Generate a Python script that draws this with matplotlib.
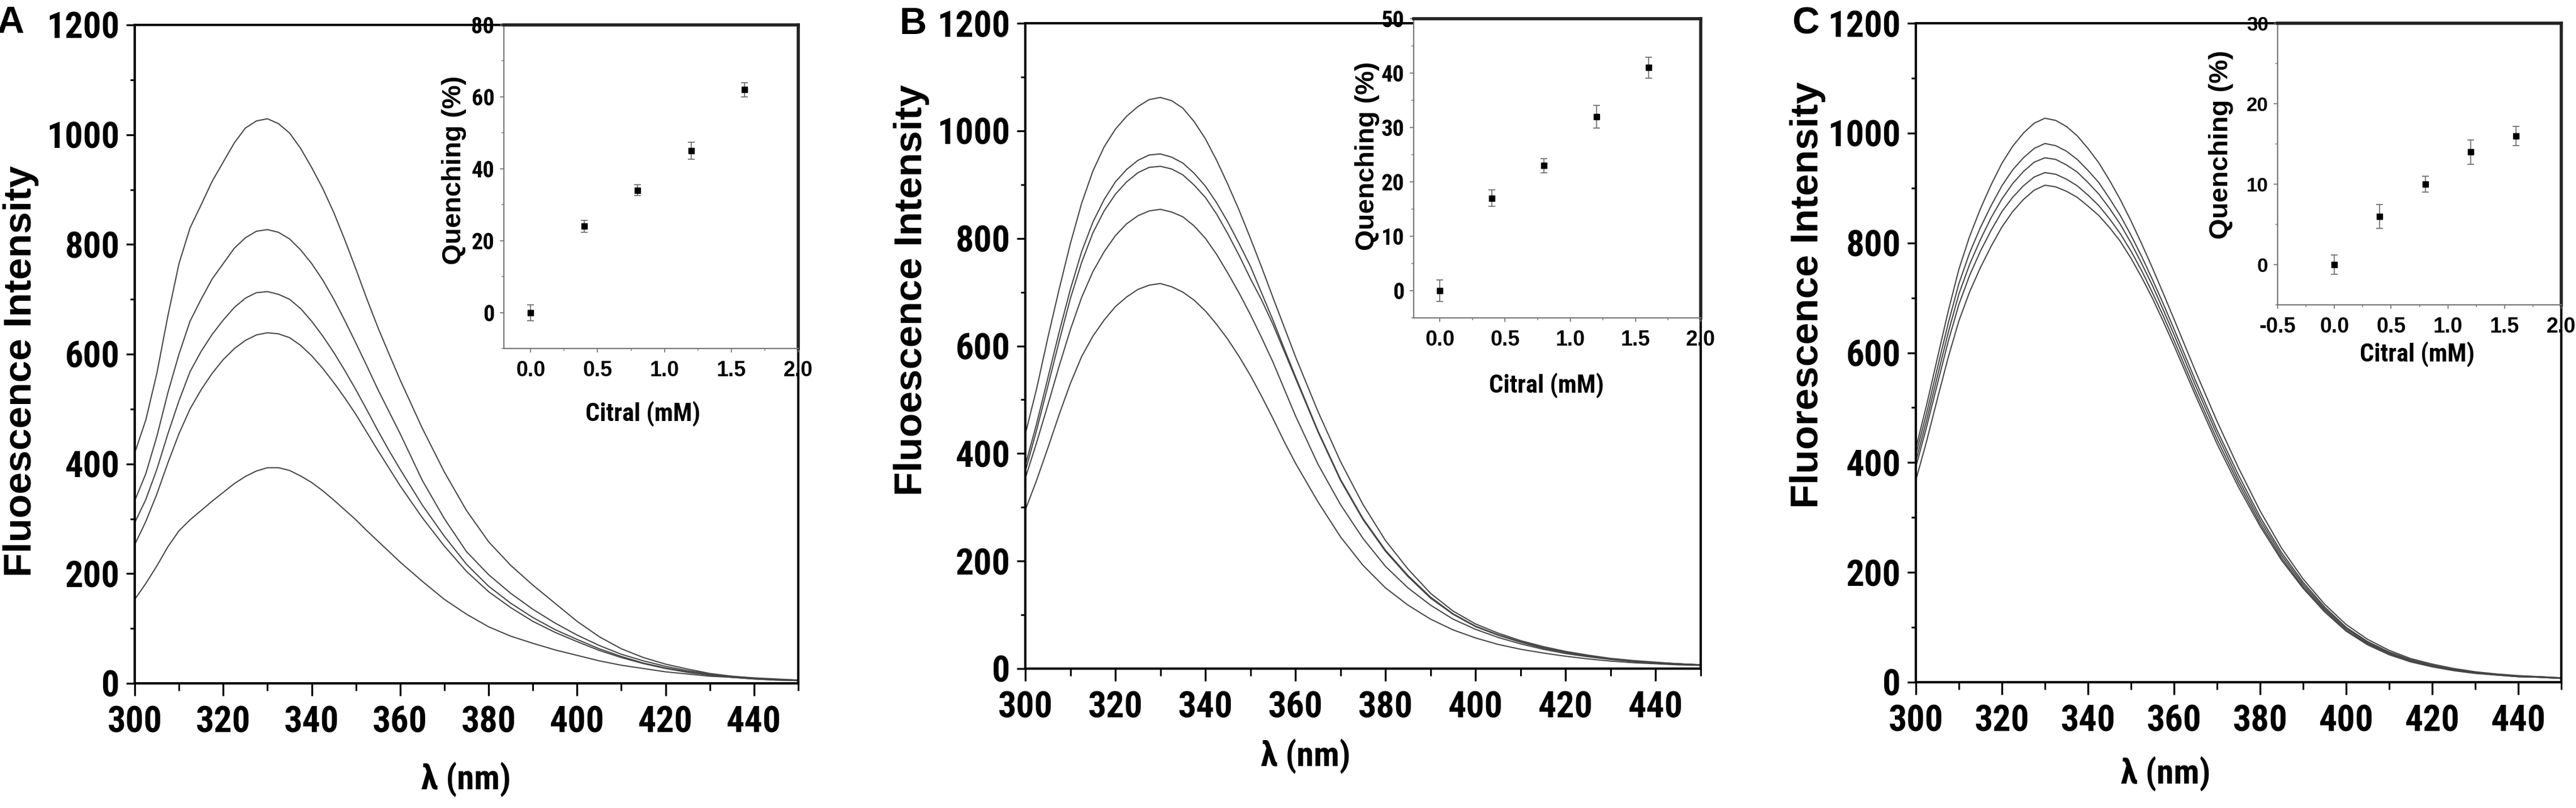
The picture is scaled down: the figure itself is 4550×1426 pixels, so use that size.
import numpy as np
import matplotlib
matplotlib.use("Agg")
import matplotlib.pyplot as plt
from matplotlib import font_manager
from matplotlib.font_manager import FontProperties
from matplotlib.ticker import MultipleLocator

# ── Canvas ───────────────────────────────────────────────────────────────────
W, H = 4550, 1426
DPI = 100

# ── Fonts: look for a condensed bold face, else fall back to regular width ──
ttf = font_manager.fontManager.ttflist
names = {f.name for f in ttf}
REG = "Liberation Sans" if "Liberation Sans" in names else "DejaVu Sans"

COND_FAMILY, COND_STRETCH = None, "normal"
for n in ["Liberation Sans Narrow", "Arial Narrow", "Roboto Condensed",
          "Open Sans Condensed", "Noto Sans Condensed", "DejaVu Sans Condensed"]:
    if n in names:
        COND_FAMILY = n
        break
if COND_FAMILY is None:
    for f in ttf:
        if f.stretch in ("condensed", "semi-condensed") and f.weight in (600, 700, "bold"):
            COND_FAMILY, COND_STRETCH = f.name, f.stretch
            break
HAVE_COND = COND_FAMILY is not None
if not HAVE_COND:
    COND_FAMILY = REG


def cond(size):
    return FontProperties(family=[COND_FAMILY, "DejaVu Sans"], weight="bold",
                          stretch=COND_STRETCH, size=size)


def reg(size):
    return FontProperties(family=[REG, "DejaVu Sans"], weight="bold", size=size)


TICK_SIZE = 46 if HAVE_COND else 39
XLAB_SIZE = 44 if HAVE_COND else 40
CIT_SIZE = 32 if HAVE_COND else 26
INSET_Y_SIZE = 29 if HAVE_COND else 26

plt.rcParams["axes.unicode_minus"] = False

# ── Data ─────────────────────────────────────────────────────────────────────
WAVELENGTH = [300, 302.5, 305, 307.5, 310, 312.5, 315, 317.5, 320, 322.5, 325,
              327.5, 330, 332.5, 335, 337.5, 340, 342.5, 345, 347.5, 350,
              352.5, 355, 357.5, 360, 365, 370, 375, 380, 385, 390, 395, 400,
              405, 410, 415, 420, 425, 430, 435, 440, 445, 450]

A1 = [420, 480, 565, 670, 765, 830, 872, 915, 950, 985, 1012, 1025, 1029, 1020,
      1003, 975, 940, 902, 858, 808, 755, 700, 648, 600, 553, 465, 385, 315,
      258, 215, 179, 146, 113, 85, 63, 47, 35, 26, 18, 13, 10, 8, 6]
A2 = [333, 382, 450, 530, 600, 660, 700, 737, 765, 793, 812, 824, 827, 822,
      810, 790, 765, 735, 700, 661, 620, 578, 535, 495, 455, 370, 300, 240,
      198, 164, 135, 110, 88, 69, 53, 41, 31, 23, 17, 12, 9, 7, 5]
A3 = [293, 335, 390, 455, 515, 568, 605, 636, 662, 685, 702, 712, 714, 709,
      700, 683, 660, 633, 603, 570, 535, 498, 460, 424, 390, 325, 268, 217,
      177, 146, 120, 98, 80, 63, 49, 37, 28, 21, 15, 11, 8, 6, 5]
A4 = [253, 295, 345, 402, 455, 500, 535, 565, 590, 610, 625, 635, 639, 637,
      630, 616, 597, 574, 548, 520, 490, 457, 424, 392, 360, 302, 250, 204,
      167, 138, 113, 93, 76, 60, 47, 36, 27, 20, 15, 11, 8, 6, 5]
A5 = [153, 182, 214, 249, 278, 298, 315, 332, 348, 364, 377, 387, 393, 393,
      388, 378, 366, 351, 334, 316, 298, 278, 259, 240, 221, 186, 153, 126,
      103, 86, 73, 61, 51, 41, 33, 27, 21, 17, 13, 11, 9, 7, 6]

B1 = [436, 520, 615, 705, 790, 865, 925, 970, 1003, 1027, 1045, 1058, 1062,
      1056, 1042, 1017, 985, 945, 900, 852, 800, 746, 690, 635, 580, 478, 385,
      305, 238, 185, 140, 107, 83, 66, 52, 41, 32, 25, 19, 15, 12, 9, 7]
B2 = [378, 455, 540, 625, 705, 775, 830, 872, 905, 928, 945, 955, 957, 951,
      940, 921, 897, 866, 830, 790, 748, 698, 648, 595, 543, 442, 352, 279,
      220, 173, 133, 102, 79, 63, 50, 39, 30, 24, 18, 14, 11, 9, 7]
B3 = [367, 443, 525, 608, 688, 755, 810, 851, 882, 905, 922, 932, 934, 929,
      918, 899, 876, 845, 808, 768, 725, 685, 640, 590, 540, 440, 350, 277,
      218, 171, 131, 101, 78, 62, 49, 38, 30, 23, 18, 14, 11, 9, 7]
B4 = [354, 420, 490, 562, 630, 690, 738, 775, 805, 827, 842, 851, 854, 849,
      840, 823, 800, 770, 735, 698, 658, 615, 570, 520, 470, 380, 305, 242,
      190, 150, 118, 92, 73, 58, 46, 36, 28, 22, 17, 13, 10, 8, 6]
B5 = [295, 350, 410, 472, 530, 580, 618, 648, 673, 691, 705, 713, 716, 710,
      700, 685, 665, 640, 612, 580, 545, 506, 465, 422, 382, 310, 245, 192,
      150, 118, 92, 72, 57, 45, 36, 29, 23, 18, 14, 11, 9, 7, 6]

C1 = [426, 505, 590, 675, 752, 812, 862, 906, 945, 976, 1000, 1018, 1027,
      1023, 1012, 995, 972, 946, 914, 879, 840, 798, 754, 708, 661, 566, 475,
      390, 312, 244, 188, 142, 105, 78, 58, 43, 33, 25, 19, 15, 12, 10, 8]
C2 = [415, 490, 572, 653, 726, 782, 828, 868, 904, 933, 955, 972, 981, 977,
      967, 952, 932, 910, 881, 850, 814, 775, 733, 689, 643, 549, 459, 377,
      301, 236, 182, 137, 100, 74, 55, 41, 31, 23, 18, 14, 11, 10, 8]
C3 = [403, 477, 557, 636, 707, 761, 806, 846, 880, 908, 930, 947, 955, 952,
      942, 929, 910, 889, 863, 834, 800, 762, 722, 678, 633, 540, 451, 369,
      295, 231, 178, 134, 98, 72, 53, 39, 30, 23, 17, 14, 11, 9, 7]
C4 = [392, 465, 543, 620, 688, 741, 785, 823, 857, 883, 904, 920, 928, 925,
      916, 904, 887, 868, 844, 817, 785, 749, 709, 667, 622, 530, 442, 362,
      289, 226, 174, 131, 95, 70, 52, 38, 29, 22, 17, 13, 10, 9, 7]
C5 = [368, 439, 516, 591, 658, 711, 755, 794, 829, 857, 879, 896, 905, 902,
      894, 883, 867, 850, 828, 803, 772, 737, 699, 657, 613, 522, 434, 355,
      284, 222, 171, 128, 93, 68, 50, 37, 28, 21, 16, 13, 10, 9, 7]

CITRAL = [0.0, 0.4, 0.8, 1.2, 1.6]
QUENCH_A = [0, 24, 34, 45, 62]
QUENCH_A_ERR = [2.2, 1.7, 1.5, 2.3, 2.0]
QUENCH_B = [0, 17, 23, 32, 41]
QUENCH_B_ERR = [2.0, 1.5, 1.3, 2.1, 1.9]
QUENCH_C = [0, 6, 10, 14, 16]
QUENCH_C_ERR = [1.2, 1.5, 1.0, 1.5, 1.2]


def rect(l, t, r, b):
    return [l / W, 1 - b / H, (r - l) / W, (b - t) / H]


def fpos(x, y):
    return x / W, 1 - y / H


fig = plt.figure(figsize=(W / DPI, H / DPI), dpi=DPI, facecolor="white")

PANELS = [
    dict(letter="A", curves=[A1, A2, A3, A4, A5],
         main=(238, 44, 1410, 1206), inset=(890, 44, 1410, 615),
         ylabel="Fluoescence Intensity",
         q=QUENCH_A, qerr=QUENCH_A_ERR, qlim=(-10, 80), qmaj=20, xl=-0.2,
         letter_xy=(18, 41), ylab_xy=(37, 655), xlab_xy=(823, 1376),
         qlab_xy=(802, 300), clab_xy=(1135, 730), ycond=True),
    dict(letter="B", curves=[B1, B2, B3, B4, B5],
         main=(1811, 41, 3004, 1180), inset=(2497, 33, 3004, 561),
         ylabel="Fluoescence Intensity",
         q=QUENCH_B, qerr=QUENCH_B_ERR, qlim=(-5, 50), qmaj=10, xl=-0.2,
         letter_xy=(1613, 43), ylab_xy=(1610, 512), xlab_xy=(2306, 1335),
         qlab_xy=(2415, 275), clab_xy=(2731, 680), ycond=True),
    dict(letter="C", curves=[C1, C2, C3, C4, C5],
         main=(3384, 41, 4524, 1204), inset=(4023, 41, 4524, 538),
         ylabel="Fluorescence Intensity",
         q=QUENCH_C, qerr=QUENCH_C_ERR, qlim=(-5, 30), qmaj=10, xl=-0.5,
         letter_xy=(3189, 43), ylab_xy=(3193, 521), xlab_xy=(3825, 1366),
         qlab_xy=(3923, 255), clab_xy=(4270, 625), ycond=False),
]

for p in PANELS:
    # ── main spectra axes ────────────────────────────────────────────────────
    ax = fig.add_axes(rect(*p["main"]))
    for c in p["curves"]:
        ax.plot(WAVELENGTH, c, color="#454545", lw=1.5, zorder=2,
                solid_joinstyle="round")
    ax.set_xlim(300, 450)
    ax.set_ylim(0, 1200)
    ax.xaxis.set_major_locator(MultipleLocator(20))
    ax.xaxis.set_minor_locator(MultipleLocator(10))
    ax.yaxis.set_major_locator(MultipleLocator(200))
    ax.yaxis.set_minor_locator(MultipleLocator(100))
    for s in ax.spines.values():
        s.set_linewidth(3.0)
        s.set_color("black")
    ax.tick_params(axis="x", which="major", direction="out", length=16,
                   width=2.4, pad=12, top=False)
    ax.tick_params(axis="x", which="minor", direction="out", length=9,
                   width=2.2, top=False)
    ax.tick_params(axis="y", which="major", direction="out", length=11,
                   width=2.4, pad=8, right=False)
    ax.tick_params(axis="y", which="minor", direction="out", length=6,
                   width=2.2, right=False)
    for lab in ax.get_xticklabels() + ax.get_yticklabels():
        lab.set_fontproperties(cond(TICK_SIZE))

    # ── inset quenching axes ─────────────────────────────────────────────────
    ai = fig.add_axes(rect(*p["inset"]), zorder=5)
    ai.set_facecolor("white")
    ai.errorbar(CITRAL, p["q"], yerr=p["qerr"], fmt="s", color="black",
                ms=7, ecolor="#666666", elinewidth=1.2, capsize=4,
                capthick=1.2, zorder=3)
    ai.set_xlim(p["xl"], 2.0)
    ai.set_ylim(*p["qlim"])
    ai.xaxis.set_major_locator(MultipleLocator(0.5))
    ai.xaxis.set_minor_locator(MultipleLocator(0.25))
    ai.yaxis.set_major_locator(MultipleLocator(p["qmaj"]))
    ai.yaxis.set_minor_locator(MultipleLocator(p["qmaj"] / 2))
    for side in ("left", "bottom"):
        ai.spines[side].set_linewidth(1.6)
        ai.spines[side].set_color("#777777")
    for side in ("top", "right"):
        ai.spines[side].set_linewidth(4.0)
        ai.spines[side].set_color("#222222")
    ai.tick_params(which="major", direction="out", length=5, width=1.3,
                   color="#777777", top=False, right=False)
    ai.tick_params(which="minor", direction="out", length=3, width=1.1,
                   color="#777777", top=False, right=False)
    ai.tick_params(axis="x", pad=10)
    ai.tick_params(axis="y", pad=7)
    for lab in ai.get_xticklabels():
        lab.set_fontproperties(reg(27))
    for lab in ai.get_yticklabels():
        lab.set_fontproperties(cond(INSET_Y_SIZE) if p["ycond"] else reg(25))

    # ── texts ────────────────────────────────────────────────────────────────
    fig.text(*fpos(*p["letter_xy"]), p["letter"], ha="center", va="center",
             fontproperties=reg(48))
    fig.text(*fpos(*p["ylab_xy"]), p["ylabel"], ha="center", va="center",
             rotation=90, fontproperties=reg(50))
    fig.text(*fpos(*p["xlab_xy"]), "λ (nm)", ha="center", va="center",
             fontproperties=cond(XLAB_SIZE))
    fig.text(*fpos(*p["qlab_xy"]), "Quenching (%)", ha="center", va="center",
             rotation=90, fontproperties=reg(34), zorder=6)
    fig.text(*fpos(*p["clab_xy"]), "Citral (mM)", ha="center", va="center",
             fontproperties=cond(CIT_SIZE), zorder=6)

fig.savefig("out.png", dpi=DPI, facecolor="white")
